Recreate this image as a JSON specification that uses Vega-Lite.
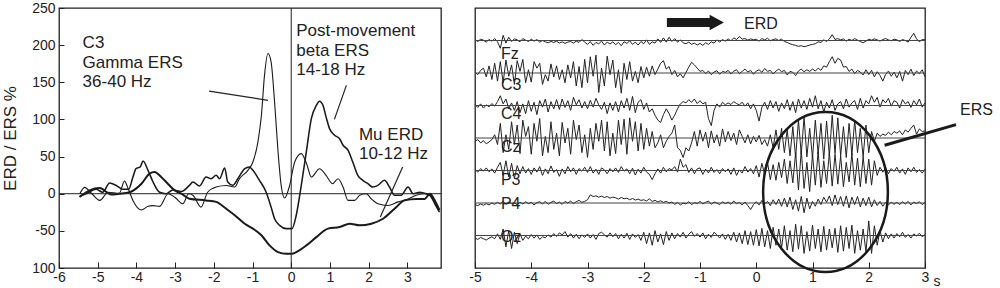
{
"$schema":"https://vega.github.io/schema/vega-lite/v6.json",
"padding":{"left":0,"top":0,"right":2,"bottom":0},
"bounds":"flush",
"spacing":34,
"config":{"font":"Liberation Sans","view":{"stroke":"#222","strokeWidth":1.3},"axis":{"labelFont":"Liberation Sans","titleFont":"Liberation Sans","labelColor":"#222","titleColor":"#222","tickColor":"#222","grid":false,"domain":false},"text":{"font":"Liberation Sans","color":"#222"}},
"datasets":{
"bands":[
{"b":"gamma","t":-5.46,"v":0},{"b":"gamma","t":-5.34,"v":8.6},{"b":"gamma","t":-5.15,"v":0},{"b":"gamma","t":-4.95,"v":-9},{"b":"gamma","t":-4.73,"v":2},{"b":"gamma","t":-4.44,"v":0.5},{"b":"gamma","t":-4.31,"v":17},{"b":"gamma","t":-4.2,"v":5},{"b":"gamma","t":-4.09,"v":-9},{"b":"gamma","t":-3.87,"v":-22},{"b":"gamma","t":-3.7,"v":-17},{"b":"gamma","t":-3.57,"v":-16},{"b":"gamma","t":-3.4,"v":-17},{"b":"gamma","t":-3.18,"v":0},{"b":"gamma","t":-3.0,"v":-5},{"b":"gamma","t":-2.8,"v":-13.5},{"b":"gamma","t":-2.65,"v":0},{"b":"gamma","t":-2.54,"v":-2},{"b":"gamma","t":-2.33,"v":-18},{"b":"gamma","t":-2.16,"v":2},{"b":"gamma","t":-1.94,"v":9},{"b":"gamma","t":-1.68,"v":11},{"b":"gamma","t":-1.46,"v":9},{"b":"gamma","t":-1.34,"v":20},{"b":"gamma","t":-1.12,"v":31.5},{"b":"gamma","t":-0.99,"v":42.7},{"b":"gamma","t":-0.86,"v":69.7},{"b":"gamma","t":-0.77,"v":105.6},{"b":"gamma","t":-0.69,"v":159.6},{"b":"gamma","t":-0.6,"v":188.7},{"b":"gamma","t":-0.52,"v":177.5},{"b":"gamma","t":-0.43,"v":123.6},{"b":"gamma","t":-0.34,"v":56.2},{"b":"gamma","t":-0.26,"v":11.3},{"b":"gamma","t":-0.17,"v":-5.8},{"b":"gamma","t":-0.04,"v":11.3},{"b":"gamma","t":0.09,"v":42.7},{"b":"gamma","t":0.26,"v":53.9},{"b":"gamma","t":0.4,"v":40},{"b":"gamma","t":0.52,"v":22.5},{"b":"gamma","t":0.73,"v":33.7},{"b":"gamma","t":0.9,"v":24.8},{"b":"gamma","t":1.07,"v":13.5},{"b":"gamma","t":1.21,"v":20.2},{"b":"gamma","t":1.34,"v":9},{"b":"gamma","t":1.47,"v":-9},{"b":"gamma","t":1.64,"v":-9},{"b":"gamma","t":1.77,"v":-2},{"b":"gamma","t":1.94,"v":0},{"b":"gamma","t":2.07,"v":-7},{"b":"gamma","t":2.24,"v":-13.5},{"b":"gamma","t":2.5,"v":-15.8},{"b":"gamma","t":2.76,"v":-11},{"b":"gamma","t":3.02,"v":-7},{"b":"gamma","t":3.23,"v":-2},{"b":"gamma","t":3.45,"v":0},{"b":"gamma","t":3.58,"v":-2},{"b":"gamma","t":3.71,"v":-11},{"b":"gamma","t":3.83,"v":-22},
{"b":"beta","t":-5.46,"v":-3},{"b":"beta","t":-5.3,"v":0},{"b":"beta","t":-5.04,"v":6},{"b":"beta","t":-4.87,"v":2},{"b":"beta","t":-4.69,"v":14.4},{"b":"beta","t":-4.52,"v":11},{"b":"beta","t":-4.35,"v":6},{"b":"beta","t":-4.2,"v":6},{"b":"beta","t":-4.09,"v":22.5},{"b":"beta","t":-4.01,"v":33.7},{"b":"beta","t":-3.9,"v":36},{"b":"beta","t":-3.83,"v":44},{"b":"beta","t":-3.7,"v":31.5},{"b":"beta","t":-3.57,"v":15.8},{"b":"beta","t":-3.4,"v":2},{"b":"beta","t":-3.23,"v":0},{"b":"beta","t":-3.06,"v":5},{"b":"beta","t":-2.84,"v":3},{"b":"beta","t":-2.63,"v":11.3},{"b":"beta","t":-2.54,"v":15.8},{"b":"beta","t":-2.37,"v":10.4},{"b":"beta","t":-2.2,"v":22.5},{"b":"beta","t":-2.07,"v":20.2},{"b":"beta","t":-1.94,"v":24.8},{"b":"beta","t":-1.85,"v":20.2},{"b":"beta","t":-1.72,"v":34.6},{"b":"beta","t":-1.64,"v":15.8},{"b":"beta","t":-1.51,"v":11.3},{"b":"beta","t":-1.38,"v":20.2},{"b":"beta","t":-1.2,"v":33.7},{"b":"beta","t":-1.08,"v":36},{"b":"beta","t":-0.99,"v":31.5},{"b":"beta","t":-0.82,"v":18},{"b":"beta","t":-0.65,"v":2.3},{"b":"beta","t":-0.52,"v":-18},{"b":"beta","t":-0.43,"v":-33.7},{"b":"beta","t":-0.3,"v":-42.6},{"b":"beta","t":-0.13,"v":-47},{"b":"beta","t":0.02,"v":-47},{"b":"beta","t":0.13,"v":-29},{"b":"beta","t":0.26,"v":11.3},{"b":"beta","t":0.39,"v":56.2},{"b":"beta","t":0.52,"v":101},{"b":"beta","t":0.65,"v":119},{"b":"beta","t":0.73,"v":124.5},{"b":"beta","t":0.82,"v":119},{"b":"beta","t":0.9,"v":103.4},{"b":"beta","t":0.99,"v":87.6},{"b":"beta","t":1.12,"v":78.7},{"b":"beta","t":1.25,"v":74.1},{"b":"beta","t":1.34,"v":65.2},{"b":"beta","t":1.47,"v":58.5},{"b":"beta","t":1.59,"v":42.7},{"b":"beta","t":1.72,"v":24.8},{"b":"beta","t":1.85,"v":18},{"b":"beta","t":1.98,"v":13.5},{"b":"beta","t":2.11,"v":9},{"b":"beta","t":2.24,"v":11.3},{"b":"beta","t":2.41,"v":18},{"b":"beta","t":2.54,"v":9},{"b":"beta","t":2.67,"v":-2},{"b":"beta","t":2.84,"v":-2},{"b":"beta","t":3.02,"v":9},{"b":"beta","t":3.15,"v":0},{"b":"beta","t":3.32,"v":2},{"b":"beta","t":3.49,"v":0},{"b":"beta","t":3.58,"v":-2},{"b":"beta","t":3.71,"v":-13.5},{"b":"beta","t":3.83,"v":-24.7},
{"b":"mu","t":-5.47,"v":-4.5},{"b":"mu","t":-5.21,"v":4.5},{"b":"mu","t":-4.95,"v":7.7},{"b":"mu","t":-4.65,"v":-1},{"b":"mu","t":-4.44,"v":0},{"b":"mu","t":-4.18,"v":2},{"b":"mu","t":-3.87,"v":13.5},{"b":"mu","t":-3.66,"v":27},{"b":"mu","t":-3.53,"v":29.2},{"b":"mu","t":-3.36,"v":22.5},{"b":"mu","t":-3.19,"v":13.5},{"b":"mu","t":-3.01,"v":4.5},{"b":"mu","t":-2.84,"v":0},{"b":"mu","t":-2.63,"v":-6.7},{"b":"mu","t":-2.2,"v":-9},{"b":"mu","t":-1.94,"v":-11},{"b":"mu","t":-1.68,"v":-20.2},{"b":"mu","t":-1.46,"v":-29},{"b":"mu","t":-1.2,"v":-40.4},{"b":"mu","t":-0.99,"v":-47},{"b":"mu","t":-0.77,"v":-56},{"b":"mu","t":-0.56,"v":-69.6},{"b":"mu","t":-0.34,"v":-78.6},{"b":"mu","t":-0.13,"v":-80.9},{"b":"mu","t":0.02,"v":-80.9},{"b":"mu","t":0.13,"v":-78.6},{"b":"mu","t":0.39,"v":-69.6},{"b":"mu","t":0.65,"v":-58.4},{"b":"mu","t":0.95,"v":-47},{"b":"mu","t":1.25,"v":-44.9},{"b":"mu","t":1.51,"v":-40.4},{"b":"mu","t":1.77,"v":-42.6},{"b":"mu","t":2.07,"v":-40.4},{"b":"mu","t":2.37,"v":-33.7},{"b":"mu","t":2.67,"v":-20.2},{"b":"mu","t":2.93,"v":-9},{"b":"mu","t":3.23,"v":-7},{"b":"mu","t":3.45,"v":-7},{"b":"mu","t":3.58,"v":0},{"b":"mu","t":3.71,"v":-9},{"b":"mu","t":3.83,"v":-22}
],
"eeg":[
{"t":-5,"a":0.02,"b":0.03,"c":0.03,"d":-0.10,"e":0.03,"f":-0.05,"g":-0.08},
{"t":-4.95,"a":-0.03,"b":-0.05,"c":-0.06,"d":-0.05,"e":-0.05,"f":-0.08,"g":-0.12},
{"t":-4.9,"a":0.04,"b":0.08,"c":0.05,"d":-0.15,"e":0.06,"f":-0.03,"g":-0.06},
{"t":-4.85,"a":0.01,"b":0.15,"c":-0.08,"d":-0.08,"e":-0.02,"f":-0.07,"g":-0.10},
{"t":-4.8,"a":-0.05,"b":-0.12,"c":0.02,"d":-0.18,"e":0.08,"f":-0.02,"g":-0.14},
{"t":-4.75,"a":0.03,"b":0.22,"c":-0.04,"d":-0.12,"e":-0.04,"f":-0.06,"g":-0.08},
{"t":-4.7,"a":-0.02,"b":-0.20,"c":0.06,"d":-0.05,"e":0.05,"f":0,"g":-0.04},
{"t":-4.65,"a":0.06,"b":0.30,"c":-0.02,"d":0.10,"e":-0.08,"f":-0.04,"g":-0.10},
{"t":-4.6,"a":-0.04,"b":-0.25,"c":0.12,"d":-0.20,"e":0.10,"f":0.02,"g":0.05},
{"t":-4.55,"a":-0.24,"b":0.35,"c":0.30,"d":0.45,"e":0.25,"f":-0.03,"g":-0.12},
{"t":-4.5,"a":0.16,"b":-0.30,"c":0.05,"d":-0.45,"e":-0.15,"f":0.05,"g":0.20},
{"t":-4.45,"a":-0.08,"b":0.40,"c":0.20,"d":0.10,"e":0.30,"f":-0.04,"g":-0.35},
{"t":-4.4,"a":0.10,"b":-0.10,"c":-0.10,"d":-0.35,"e":-0.20,"f":0.03,"g":0.15},
{"t":-4.35,"a":-0.03,"b":0.25,"c":0.08,"d":0.50,"e":0.22,"f":-0.02,"g":-0.40},
{"t":-4.3,"a":0.05,"b":-0.35,"c":-0.15,"d":-0.20,"e":-0.25,"f":0,"g":0.10},
{"t":-4.25,"a":0.02,"b":0.38,"c":0.12,"d":0.40,"e":0.15,"f":-0.05,"g":-0.25},
{"t":-4.2,"a":-0.04,"b":0.05,"c":-0.22,"d":-0.48,"e":-0.10,"f":0.02,"g":0.05},
{"t":-4.15,"a":0.06,"b":0.42,"c":0.05,"d":0.55,"e":0.12,"f":-0.03,"g":-0.15},
{"t":-4.1,"a":0.01,"b":-0.30,"c":-0.25,"d":0.05,"e":-0.08,"f":0.04,"g":-0.02},
{"t":-4.05,"a":-0.03,"b":0.10,"c":0.15,"d":0.35,"e":0.06,"f":-0.02,"g":-0.10},
{"t":-4,"a":0.04,"b":-0.28,"c":-0.18,"d":-0.50,"e":-0.12,"f":0.02,"g":0.03},
{"t":-3.95,"a":-0.02,"b":0.35,"c":0.10,"d":0.45,"e":0.08,"f":-0.06,"g":-0.08},
{"t":-3.9,"a":0.03,"b":0.15,"c":-0.28,"d":-0.10,"e":-0.05,"f":0.01,"g":0.02},
{"t":-3.85,"a":-0.05,"b":0.30,"c":0.15,"d":0.60,"e":0.12,"f":0.04,"g":-0.12},
{"t":-3.8,"a":0,"b":-0.35,"c":-0.05,"d":-0.55,"e":-0.15,"f":-0.03,"g":-0.04},
{"t":-3.75,"a":-0.04,"b":-0.05,"c":0.20,"d":0.05,"e":0.05,"f":0.05,"g":-0.07},
{"t":-3.7,"a":-0.07,"b":-0.25,"c":-0.20,"d":-0.45,"e":-0.10,"f":-0.04,"g":0.02},
{"t":-3.65,"a":-0.03,"b":0.28,"c":0.12,"d":0.50,"e":0.14,"f":0.02,"g":-0.05},
{"t":-3.6,"a":-0.06,"b":-0.12,"c":-0.10,"d":-0.35,"e":-0.06,"f":0.06,"g":0.06},
{"t":-3.55,"a":-0.02,"b":0.22,"c":0.18,"d":0.15,"e":0.03,"f":-0.02,"g":-0.03},
{"t":-3.5,"a":-0.08,"b":-0.20,"c":-0.12,"d":-0.55,"e":-0.18,"f":0.03,"g":0.08},
{"t":-3.45,"a":-0.04,"b":0.10,"c":0.20,"d":0.48,"e":0.05,"f":-0.04,"g":0.02},
{"t":-3.4,"a":-0.09,"b":-0.30,"c":-0.06,"d":-0.15,"e":-0.10,"f":0.05,"g":0.12},
{"t":-3.35,"a":-0.05,"b":0.25,"c":0.15,"d":0.30,"e":0.12,"f":0,"g":-0.05},
{"t":-3.3,"a":-0.03,"b":-0.15,"c":-0.15,"d":-0.50,"e":-0.04,"f":0.06,"g":0.06},
{"t":-3.25,"a":-0.08,"b":0.35,"c":0.25,"d":0.55,"e":0.08,"f":-0.02,"g":-0.08},
{"t":-3.2,"a":-0.02,"b":-0.40,"c":0.02,"d":-0.05,"e":-0.12,"f":0.04,"g":0.04},
{"t":-3.15,"a":-0.06,"b":0.20,"c":0.18,"d":0.40,"e":0.06,"f":0.08,"g":-0.10},
{"t":-3.1,"a":0.03,"b":-0.45,"c":-0.08,"d":-0.45,"e":-0.02,"f":0.02,"g":0.02},
{"t":-3.05,"a":-0.05,"b":0.42,"c":0.12,"d":0.10,"e":0.10,"f":0.05,"g":-0.06},
{"t":-3,"a":-0.12,"b":-0.30,"c":-0.10,"d":-0.60,"e":-0.06,"f":0.10,"g":0.05},
{"t":-2.95,"a":-0.03,"b":0.50,"c":0.16,"d":0.30,"e":0.12,"f":0.25,"g":-0.08},
{"t":-2.9,"a":-0.15,"b":-0.10,"c":-0.05,"d":-0.35,"e":-0.08,"f":0.20,"g":0.03},
{"t":-2.85,"a":-0.06,"b":0.55,"c":0.22,"d":0.45,"e":0.04,"f":0.22,"g":-0.12},
{"t":-2.8,"a":-0.10,"b":-0.60,"c":0.02,"d":-0.10,"e":-0.12,"f":0.18,"g":0.06},
{"t":-2.75,"a":-0.02,"b":0.15,"c":-0.12,"d":0.55,"e":0.08,"f":0.21,"g":0.10},
{"t":-2.7,"a":-0.14,"b":-0.40,"c":0.10,"d":-0.40,"e":0.02,"f":0.17,"g":0.02},
{"t":-2.65,"a":-0.05,"b":0.52,"c":-0.25,"d":0.50,"e":-0.10,"f":0.20,"g":-0.05},
{"t":-2.6,"a":-0.11,"b":-0.05,"c":0.08,"d":-0.55,"e":0.06,"f":0.15,"g":0.08},
{"t":-2.55,"a":-0.04,"b":0.40,"c":-0.15,"d":0.15,"e":-0.04,"f":0.18,"g":-0.04},
{"t":-2.5,"a":-0.13,"b":-0.45,"c":0.12,"d":-0.48,"e":0.08,"f":0.16,"g":0.06},
{"t":-2.45,"a":-0.06,"b":0.10,"c":-0.20,"d":0.55,"e":-0.06,"f":0.12,"g":-0.10},
{"t":-2.4,"a":-0.16,"b":-0.62,"c":0.15,"d":-0.20,"e":0.12,"f":0.17,"g":0.04},
{"t":-2.35,"a":-0.04,"b":0.30,"c":-0.08,"d":0.58,"e":-0.02,"f":0.13,"g":-0.08},
{"t":-2.3,"a":-0.09,"b":-0.20,"c":0.22,"d":-0.50,"e":0.05,"f":0.15,"g":0.07},
{"t":-2.25,"a":-0.01,"b":0.35,"c":-0.15,"d":0.62,"e":-0.10,"f":0.10,"g":-0.12},
{"t":-2.2,"a":-0.12,"b":-0.25,"c":0.28,"d":-0.10,"e":0.07,"f":0.14,"g":0.05},
{"t":-2.15,"a":-0.05,"b":0.05,"c":-0.22,"d":0.50,"e":-0.14,"f":0.09,"g":-0.06},
{"t":-2.1,"a":-0.14,"b":-0.30,"c":0.10,"d":-0.40,"e":0.04,"f":0.12,"g":0.03},
{"t":-2.05,"a":-0.03,"b":0.20,"c":0.18,"d":0.45,"e":-0.08,"f":0.08,"g":-0.15},
{"t":-2,"a":-0.10,"b":-0.15,"c":-0.12,"d":-0.35,"e":0.10,"f":0.10,"g":0.10},
{"t":-1.95,"a":0.02,"b":0.18,"c":0.08,"d":0.30,"e":-0.05,"f":0.06,"g":-0.25},
{"t":-1.9,"a":-0.12,"b":-0.10,"c":-0.20,"d":-0.25,"e":-0.12,"f":0.13,"g":0.08},
{"t":-1.85,"a":-0.04,"b":0.22,"c":-0.10,"d":0.20,"e":-0.28,"f":0.05,"g":-0.30},
{"t":-1.8,"a":-0.08,"b":-0.05,"c":-0.30,"d":-0.30,"e":-0.10,"f":0.08,"g":0.15},
{"t":-1.75,"a":0.05,"b":0.12,"c":-0.45,"d":-0.15,"e":0.05,"f":0.03,"g":-0.20},
{"t":-1.7,"a":-0.06,"b":0.30,"c":-0.52,"d":0.10,"e":-0.08,"f":0.07,"g":0.05},
{"t":-1.65,"a":0.08,"b":0.38,"c":-0.28,"d":-0.30,"e":0.10,"f":0.02,"g":-0.28},
{"t":-1.6,"a":-0.05,"b":0.12,"c":-0.10,"d":-0.10,"e":-0.04,"f":0.05,"g":0.12},
{"t":-1.55,"a":0.10,"b":0.20,"c":-0.25,"d":0.05,"e":0.06,"f":0,"g":-0.15},
{"t":-1.5,"a":-0.03,"b":-0.05,"c":-0.45,"d":0.15,"e":0.02,"f":0.03,"g":0.08},
{"t":-1.45,"a":0.06,"b":0.08,"c":-0.30,"d":0.40,"e":0.12,"f":-0.04,"g":-0.10},
{"t":-1.4,"a":-0.05,"b":-0.12,"c":-0.10,"d":-0.30,"e":-0.05,"f":0.02,"g":0.06},
{"t":-1.35,"a":0.02,"b":-0.02,"c":0.05,"d":-0.38,"e":0.35,"f":-0.06,"g":-0.05},
{"t":-1.3,"a":-0.07,"b":-0.15,"c":0.12,"d":-0.60,"e":0.10,"f":0,"g":0.10},
{"t":-1.25,"a":-0.10,"b":0.02,"c":0.08,"d":-0.30,"e":0.18,"f":-0.03,"g":-0.08},
{"t":-1.2,"a":-0.05,"b":0.18,"c":0.18,"d":-0.40,"e":-0.06,"f":0.04,"g":0.04},
{"t":-1.15,"a":-0.12,"b":0.33,"c":0.10,"d":-0.15,"e":0.08,"f":-0.05,"g":0.12},
{"t":-1.1,"a":-0.08,"b":0.25,"c":0.20,"d":0.20,"e":-0.10,"f":0.01,"g":-0.03},
{"t":-1.05,"a":-0.14,"b":0.15,"c":0.06,"d":-0.25,"e":0.05,"f":-0.02,"g":0.06},
{"t":-1,"a":-0.09,"b":0.05,"c":0.15,"d":0.25,"e":0.08,"f":0.05,"g":-0.05},
{"t":-0.95,"a":-0.15,"b":0.08,"c":0.05,"d":-0.10,"e":-0.12,"f":-0.03,"g":0.08},
{"t":-0.9,"a":-0.07,"b":-0.02,"c":0.10,"d":0.18,"e":0.04,"f":0.02,"g":-0.10},
{"t":-0.85,"a":-0.12,"b":0.06,"c":-0.40,"d":-0.30,"e":-0.08,"f":0.06,"g":0.04},
{"t":-0.8,"a":-0.04,"b":-0.05,"c":-0.62,"d":0.22,"e":0.10,"f":-0.04,"g":-0.06},
{"t":-0.75,"a":-0.08,"b":0.03,"c":-0.15,"d":-0.15,"e":-0.06,"f":0.03,"g":0.10},
{"t":-0.7,"a":0.02,"b":0.07,"c":0.05,"d":0.10,"e":0.03,"f":0,"g":0.02},
{"t":-0.65,"a":-0.05,"b":-0.04,"c":-0.05,"d":-0.25,"e":-0.10,"f":-0.05,"g":-0.08},
{"t":-0.6,"a":0.03,"b":0.05,"c":0.10,"d":0.28,"e":0.06,"f":0.04,"g":0.05},
{"t":-0.55,"a":-0.02,"b":0.02,"c":0.02,"d":-0.12,"e":-0.04,"f":-0.02,"g":-0.12},
{"t":-0.5,"a":0.05,"b":0.08,"c":0.08,"d":0.20,"e":0.05,"f":0.03,"g":0.04},
{"t":-0.45,"a":-0.01,"b":-0.03,"c":0.03,"d":-0.08,"e":-0.12,"f":-0.04,"g":-0.15},
{"t":-0.4,"a":0.08,"b":0.06,"c":0.12,"d":0.15,"e":0.08,"f":0.06,"g":0.10},
{"t":-0.35,"a":0.03,"b":0.10,"c":0.06,"d":-0.20,"e":-0.15,"f":-0.02,"g":-0.20},
{"t":-0.3,"a":0.12,"b":-0.02,"c":0.02,"d":0.25,"e":0.02,"f":0.02,"g":0.08},
{"t":-0.25,"a":0.04,"b":0.05,"c":0.10,"d":0.05,"e":-0.08,"f":-0.06,"g":-0.25},
{"t":-0.2,"a":0.06,"b":0.12,"c":-0.02,"d":-0.15,"e":0.12,"f":0.03,"g":0.15},
{"t":-0.15,"a":0.01,"b":0.03,"c":0.08,"d":0.10,"e":-0.05,"f":-0.08,"g":-0.28},
{"t":-0.1,"a":0.05,"b":0.08,"c":-0.10,"d":-0.18,"e":0.06,"f":-0.20,"g":0.12},
{"t":-0.05,"a":0.02,"b":-0.04,"c":0.05,"d":0.05,"e":-0.10,"f":-0.05,"g":-0.30},
{"t":0,"a":0.04,"b":0.06,"c":-0.15,"d":-0.12,"e":0.15,"f":0.04,"g":0.18},
{"t":0.05,"a":-0.02,"b":0.10,"c":-0.48,"d":0.08,"e":-0.20,"f":-0.06,"g":-0.32},
{"t":0.1,"a":0.06,"b":0.02,"c":-0.05,"d":-0.20,"e":0.22,"f":0.08,"g":0.22},
{"t":0.15,"a":0.02,"b":0.14,"c":0.10,"d":-0.05,"e":-0.12,"f":-0.03,"g":-0.35},
{"t":0.2,"a":0.07,"b":0.05,"c":-0.12,"d":-0.25,"e":0.25,"f":0.05,"g":0.15},
{"t":0.25,"a":-0.01,"b":0.08,"c":0.15,"d":0.10,"e":-0.28,"f":-0.08,"g":-0.40},
{"t":0.3,"a":0.03,"b":-0.03,"c":-0.08,"d":-0.30,"e":0.18,"f":0.10,"g":0.25},
{"t":0.35,"a":0.05,"b":0.06,"c":0.12,"d":0.25,"e":-0.30,"f":-0.05,"g":-0.30},
{"t":0.4,"a":0,"b":0.12,"c":-0.18,"d":-0.35,"e":0.25,"f":0.12,"g":0.20},
{"t":0.45,"a":0.04,"b":0.04,"c":0.08,"d":0.30,"e":-0.22,"f":-0.10,"g":-0.38},
{"t":0.5,"a":-0.03,"b":0.08,"c":-0.10,"d":-0.45,"e":0.35,"f":0.15,"g":0.30},
{"t":0.55,"a":-0.06,"b":-0.06,"c":0.18,"d":0.25,"e":-0.40,"f":-0.12,"g":-0.45},
{"t":0.6,"a":-0.10,"b":0.05,"c":-0.15,"d":-0.55,"e":0.30,"f":0.18,"g":0.15},
{"t":0.65,"a":-0.13,"b":0.02,"c":0.12,"d":0.35,"e":-0.38,"f":-0.20,"g":-0.50},
{"t":0.7,"a":-0.15,"b":-0.08,"c":-0.22,"d":-0.60,"e":0.55,"f":0.10,"g":0.35},
{"t":0.75,"a":-0.18,"b":0.06,"c":0.20,"d":0.55,"e":-0.60,"f":-0.25,"g":-0.42},
{"t":0.8,"a":-0.16,"b":0.12,"c":-0.08,"d":-0.50,"e":0.62,"f":0.20,"g":0.30},
{"t":0.85,"a":-0.19,"b":0.04,"c":0.15,"d":0.65,"e":-0.55,"f":-0.30,"g":-0.55},
{"t":0.9,"a":-0.17,"b":0.10,"c":-0.12,"d":-0.58,"e":0.25,"f":0.15,"g":0.12},
{"t":0.95,"a":-0.14,"b":0.05,"c":0.22,"d":0.30,"e":-0.65,"f":-0.18,"g":-0.48},
{"t":1,"a":-0.12,"b":0.12,"c":-0.05,"d":-0.62,"e":0.50,"f":0.05,"g":0.32},
{"t":1.05,"a":-0.10,"b":0.06,"c":0.30,"d":0.55,"e":-0.45,"f":-0.10,"g":-0.40},
{"t":1.1,"a":-0.04,"b":0.15,"c":-0.10,"d":-0.50,"e":0.58,"f":0.12,"g":0.20},
{"t":1.15,"a":-0.06,"b":0.08,"c":0.15,"d":0.45,"e":-0.52,"f":-0.05,"g":-0.50},
{"t":1.2,"a":0.02,"b":0.22,"c":-0.20,"d":-0.65,"e":0.30,"f":0.18,"g":0.28},
{"t":1.25,"a":-0.03,"b":0.18,"c":0.10,"d":0.52,"e":-0.40,"f":0.02,"g":-0.45},
{"t":1.3,"a":0.05,"b":0.35,"c":-0.08,"d":-0.55,"e":0.55,"f":0.22,"g":0.20},
{"t":1.35,"a":0.18,"b":0.50,"c":0.18,"d":0.70,"e":-0.48,"f":-0.08,"g":-0.38},
{"t":1.4,"a":0.03,"b":0.30,"c":-0.15,"d":-0.48,"e":0.50,"f":0.25,"g":0.22},
{"t":1.45,"a":0.06,"b":0.45,"c":0.05,"d":0.62,"e":-0.42,"f":-0.05,"g":-0.52},
{"t":1.5,"a":0.02,"b":0.40,"c":0.12,"d":-0.55,"e":0.45,"f":0.20,"g":0.30},
{"t":1.55,"a":0.05,"b":0.18,"c":-0.10,"d":0.35,"e":-0.50,"f":-0.10,"g":-0.48},
{"t":1.6,"a":-0.02,"b":0.20,"c":0.20,"d":-0.60,"e":0.25,"f":0.22,"g":0.25},
{"t":1.65,"a":0.04,"b":0.05,"c":-0.05,"d":0.45,"e":-0.35,"f":-0.15,"g":-0.40},
{"t":1.7,"a":0,"b":0.12,"c":0.08,"d":-0.52,"e":0.52,"f":0.18,"g":0.32},
{"t":1.75,"a":0.06,"b":-0.02,"c":0.15,"d":0.55,"e":-0.45,"f":-0.05,"g":-0.55},
{"t":1.8,"a":0.01,"b":0.08,"c":-0.12,"d":-0.45,"e":0.38,"f":0.20,"g":0.15},
{"t":1.85,"a":-0.03,"b":0.03,"c":0.22,"d":0.30,"e":-0.50,"f":-0.12,"g":-0.45},
{"t":1.9,"a":-0.07,"b":-0.06,"c":-0.08,"d":-0.58,"e":0.42,"f":0.15,"g":0.20},
{"t":1.95,"a":-0.02,"b":0.10,"c":0.15,"d":0.40,"e":-0.40,"f":-0.08,"g":-0.50},
{"t":2,"a":0.04,"b":-0.05,"c":0.05,"d":-0.45,"e":0.35,"f":0.18,"g":0.45},
{"t":2.05,"a":0.01,"b":0.08,"c":0.30,"d":0.20,"e":-0.45,"f":-0.12,"g":-0.55},
{"t":2.1,"a":0.05,"b":-0.12,"c":0.10,"d":-0.10,"e":0.30,"f":0.10,"g":0.30},
{"t":2.15,"a":0.02,"b":0.04,"c":0.25,"d":0.15,"e":-0.15,"f":-0.08,"g":-0.30},
{"t":2.2,"a":-0.02,"b":-0.08,"c":-0.05,"d":0.05,"e":0.10,"f":0.05,"g":0.15},
{"t":2.25,"a":0.03,"b":-0.25,"c":0.18,"d":0.12,"e":-0.05,"f":-0.10,"g":-0.20},
{"t":2.3,"a":0.06,"b":-0.04,"c":0.08,"d":0.08,"e":0.08,"f":0.02,"g":0.08},
{"t":2.35,"a":0.02,"b":0.06,"c":0.22,"d":0.18,"e":-0.10,"f":-0.06,"g":-0.10},
{"t":2.4,"a":-0.01,"b":-0.10,"c":-0.02,"d":0.10,"e":0.06,"f":0.03,"g":0.05},
{"t":2.45,"a":0.04,"b":0.03,"c":0.15,"d":0.20,"e":-0.03,"f":-0.04,"g":-0.08},
{"t":2.5,"a":0.02,"b":-0.15,"c":0.10,"d":0.15,"e":0.10,"f":0.02,"g":0.06},
{"t":2.55,"a":-0.03,"b":0.05,"c":-0.08,"d":0.22,"e":-0.08,"f":-0.05,"g":-0.04},
{"t":2.6,"a":0.03,"b":-0.25,"c":0.18,"d":0.10,"e":0.05,"f":0.04,"g":0.10},
{"t":2.65,"a":0,"b":0.08,"c":0.05,"d":0.25,"e":-0.12,"f":-0.03,"g":-0.06},
{"t":2.7,"a":-0.05,"b":-0.05,"c":0.12,"d":0.18,"e":0.08,"f":0.05,"g":0.03},
{"t":2.75,"a":0.10,"b":0.12,"c":-0.06,"d":0.30,"e":-0.04,"f":-0.06,"g":-0.08},
{"t":2.8,"a":0.22,"b":-0.08,"c":0.15,"d":0.40,"e":0.10,"f":0.03,"g":0.05},
{"t":2.85,"a":0.05,"b":0.06,"c":0.02,"d":0.12,"e":-0.06,"f":-0.02,"g":-0.02},
{"t":2.9,"a":-0.04,"b":-0.02,"c":0.20,"d":0.28,"e":0.03,"f":0.04,"g":0.07},
{"t":2.95,"a":0.03,"b":0.10,"c":-0.05,"d":0.20,"e":-0.08,"f":-0.05,"g":-0.04},
{"t":3,"a":0.02,"b":-0.12,"c":0.08,"d":0.22,"e":0.04,"f":0.02,"g":0.03}
]},
"hconcat":[
{
"width":382,"height":260,
"layer":[
{"data":{"name":"bands"},"mark":{"type":"line","interpolate":"monotone","color":"#1a1a1a"},
 "encoding":{
  "x":{"field":"t","type":"quantitative","scale":{"domain":[-6,3.87],"nice":false,"zero":false},"axis":{"values":[-6,-5,-4,-3,-2,-1,0,1,2,3],"tickCount":20,"tickSize":-6,"labelPadding":8,"labelFontSize":14,"labelFlush":false,"labelOverlap":false,"labelExpr":"datum.value < 0 ? '-' + abs(datum.value) : '' + datum.value","title":null}},
  "y":{"field":"v","type":"quantitative","scale":{"domain":[-100,250],"nice":false,"zero":false},"axis":{"values":[-100,-50,0,50,100,150,200,250],"tickCount":20,"tickSize":-5,"labelPadding":9,"labelFontSize":14,"labelOverlap":false,"labelExpr":"datum.value == -100 ? '100' : (datum.value < 0 ? '-' + abs(datum.value) : '' + datum.value)","title":"ERD / ERS %","titleFontSize":17,"titleFontWeight":"normal","titlePadding":12}},
  "strokeWidth":{"field":"b","type":"nominal","scale":{"domain":["gamma","beta","mu"],"range":[1.1,2,3]},"legend":null}
 }},
{"data":{"values":[{}]},"mark":{"type":"rule","color":"#222","strokeWidth":1},"encoding":{"y":{"datum":0,"type":"quantitative","scale":{"domain":[-100,250],"nice":false,"zero":false}}}},
{"data":{"values":[{}]},"mark":{"type":"rule","color":"#222","strokeWidth":1},"encoding":{"x":{"datum":0,"type":"quantitative","scale":{"domain":[-6,3.87],"nice":false,"zero":false}}}},
{"data":{"values":[{}]},"mark":{"type":"text","align":"left","baseline":"alphabetic","fontSize":17,"lineBreak":"\n","lineHeight":19.5},"encoding":{"x":{"datum":-5.39,"type":"quantitative","scale":{"domain":[-6,3.87],"nice":false,"zero":false}},"y":{"datum":196,"type":"quantitative","scale":{"domain":[-100,250],"nice":false,"zero":false}},"text":{"value":"C3\nGamma ERS\n36-40 Hz"}}},
{"data":{"values":[{}]},"mark":{"type":"text","align":"left","baseline":"alphabetic","fontSize":17,"lineBreak":"\n","lineHeight":19.7},"encoding":{"x":{"datum":0.13,"type":"quantitative","scale":{"domain":[-6,3.87],"nice":false,"zero":false}},"y":{"datum":212.3,"type":"quantitative","scale":{"domain":[-100,250],"nice":false,"zero":false}},"text":{"value":"Post-movement\nbeta ERS\n14-18 Hz"}}},
{"data":{"values":[{}]},"mark":{"type":"text","align":"left","baseline":"alphabetic","fontSize":17,"lineBreak":"\n","lineHeight":19},"encoding":{"x":{"datum":1.75,"type":"quantitative","scale":{"domain":[-6,3.87],"nice":false,"zero":false}},"y":{"datum":72.3,"type":"quantitative","scale":{"domain":[-100,250],"nice":false,"zero":false}},"text":{"value":"Mu ERD\n10-12 Hz"}}},
{"data":{"values":[{}]},"mark":{"type":"rule","color":"#222","strokeWidth":1.2},"encoding":{"x":{"datum":-2.12,"type":"quantitative","scale":{"domain":[-6,3.87],"nice":false,"zero":false}},"y":{"datum":138.2,"type":"quantitative","scale":{"domain":[-100,250],"nice":false,"zero":false}},"x2":{"datum":-0.6},"y2":{"datum":125.7}}},
{"data":{"values":[{}]},"mark":{"type":"rule","color":"#222","strokeWidth":1.2},"encoding":{"x":{"datum":1.425,"type":"quantitative","scale":{"domain":[-6,3.87],"nice":false,"zero":false}},"y":{"datum":145.9,"type":"quantitative","scale":{"domain":[-100,250],"nice":false,"zero":false}},"x2":{"datum":1.116},"y2":{"datum":100.1}}},
{"data":{"values":[{}]},"mark":{"type":"rule","color":"#222","strokeWidth":1.2},"encoding":{"x":{"datum":2.879,"type":"quantitative","scale":{"domain":[-6,3.87],"nice":false,"zero":false}},"y":{"datum":35.9,"type":"quantitative","scale":{"domain":[-100,250],"nice":false,"zero":false}},"x2":{"datum":2.302},"y2":{"datum":-31.4}}}
]
},
{
"width":450,"height":260,
"resolve":{"scale":{"y":"independent"}},
"layer":[
{"layer":[
 {"data":{"name":"eeg"},"mark":{"type":"line","color":"#222","strokeWidth":1},"encoding":{"x":{"field":"t","type":"quantitative","scale":{"domain":[-5,3],"nice":false,"zero":false},"axis":{"values":[-5,-4,-3,-2,-1,0,1,2,3],"tickCount":20,"tickSize":-6,"labelPadding":8,"labelFontSize":14,"labelFlush":false,"labelOverlap":false,"labelExpr":"datum.value < 0 ? '-' + abs(datum.value) : '' + datum.value","title":"s","titleFontSize":14,"titleFontWeight":"normal","titleX":458,"titleY":17,"titleAlign":"left","titleBaseline":"alphabetic"}},"y":{"field":"a","type":"quantitative","scale":{"domain":[-7,1],"nice":false,"zero":false},"axis":null}}},
 {"data":{"values":[{}]},"mark":{"type":"rule","color":"#444","strokeWidth":1},"encoding":{"y":{"datum":0,"type":"quantitative","scale":{"domain":[-7,1],"nice":false,"zero":false},"axis":null}}},
 {"data":{"values":[{}]},"mark":{"type":"text","align":"left","baseline":"alphabetic","fontSize":16},"encoding":{"x":{"datum":-4.54,"type":"quantitative","scale":{"domain":[-5,3],"nice":false,"zero":false}},"y":{"datum":-0.56,"type":"quantitative","scale":{"domain":[-7,1],"nice":false,"zero":false},"axis":null},"text":{"value":"Fz"}}}
]},
{"layer":[
 {"data":{"name":"eeg"},"mark":{"type":"line","color":"#222","strokeWidth":1},"encoding":{"x":{"field":"t","type":"quantitative","scale":{"domain":[-5,3],"nice":false,"zero":false}},"y":{"field":"b","type":"quantitative","scale":{"domain":[-6,2],"nice":false,"zero":false},"axis":null}}},
 {"data":{"values":[{}]},"mark":{"type":"rule","color":"#444","strokeWidth":1},"encoding":{"y":{"datum":0,"type":"quantitative","scale":{"domain":[-6,2],"nice":false,"zero":false},"axis":null}}},
 {"data":{"values":[{}]},"mark":{"type":"text","align":"left","baseline":"alphabetic","fontSize":16},"encoding":{"x":{"datum":-4.54,"type":"quantitative","scale":{"domain":[-5,3],"nice":false,"zero":false}},"y":{"datum":-0.52,"type":"quantitative","scale":{"domain":[-6,2],"nice":false,"zero":false},"axis":null},"text":{"value":"C3"}}}
]},
{"layer":[
 {"data":{"name":"eeg"},"mark":{"type":"line","color":"#222","strokeWidth":1},"encoding":{"x":{"field":"t","type":"quantitative","scale":{"domain":[-5,3],"nice":false,"zero":false}},"y":{"field":"c","type":"quantitative","scale":{"domain":[-5,3],"nice":false,"zero":false},"axis":null}}},
 {"data":{"values":[{}]},"mark":{"type":"rule","color":"#444","strokeWidth":1},"encoding":{"y":{"datum":0,"type":"quantitative","scale":{"domain":[-5,3],"nice":false,"zero":false},"axis":null}}},
 {"data":{"values":[{}]},"mark":{"type":"text","align":"left","baseline":"alphabetic","fontSize":16},"encoding":{"x":{"datum":-4.54,"type":"quantitative","scale":{"domain":[-5,3],"nice":false,"zero":false}},"y":{"datum":-0.41,"type":"quantitative","scale":{"domain":[-5,3],"nice":false,"zero":false},"axis":null},"text":{"value":"C4"}}}
]},
{"layer":[
 {"data":{"name":"eeg"},"mark":{"type":"line","color":"#222","strokeWidth":1},"encoding":{"x":{"field":"t","type":"quantitative","scale":{"domain":[-5,3],"nice":false,"zero":false}},"y":{"field":"d","type":"quantitative","scale":{"domain":[-4,4],"nice":false,"zero":false},"axis":null}}},
 {"data":{"values":[{}]},"mark":{"type":"rule","color":"#444","strokeWidth":1},"encoding":{"y":{"datum":0,"type":"quantitative","scale":{"domain":[-4,4],"nice":false,"zero":false},"axis":null}}},
 {"data":{"values":[{}]},"mark":{"type":"text","align":"left","baseline":"alphabetic","fontSize":16},"encoding":{"x":{"datum":-4.54,"type":"quantitative","scale":{"domain":[-5,3],"nice":false,"zero":false}},"y":{"datum":-0.43,"type":"quantitative","scale":{"domain":[-4,4],"nice":false,"zero":false},"axis":null},"text":{"value":"Cz"}}}
]},
{"layer":[
 {"data":{"name":"eeg"},"mark":{"type":"line","color":"#222","strokeWidth":1},"encoding":{"x":{"field":"t","type":"quantitative","scale":{"domain":[-5,3],"nice":false,"zero":false}},"y":{"field":"e","type":"quantitative","scale":{"domain":[-3,5],"nice":false,"zero":false},"axis":null}}},
 {"data":{"values":[{}]},"mark":{"type":"rule","color":"#444","strokeWidth":1},"encoding":{"y":{"datum":0,"type":"quantitative","scale":{"domain":[-3,5],"nice":false,"zero":false},"axis":null}}},
 {"data":{"values":[{}]},"mark":{"type":"text","align":"left","baseline":"alphabetic","fontSize":16},"encoding":{"x":{"datum":-4.54,"type":"quantitative","scale":{"domain":[-5,3],"nice":false,"zero":false}},"y":{"datum":-0.45,"type":"quantitative","scale":{"domain":[-3,5],"nice":false,"zero":false},"axis":null},"text":{"value":"P3"}}}
]},
{"layer":[
 {"data":{"name":"eeg"},"mark":{"type":"line","color":"#222","strokeWidth":1},"encoding":{"x":{"field":"t","type":"quantitative","scale":{"domain":[-5,3],"nice":false,"zero":false}},"y":{"field":"f","type":"quantitative","scale":{"domain":[-2,6],"nice":false,"zero":false},"axis":null}}},
 {"data":{"values":[{}]},"mark":{"type":"rule","color":"#444","strokeWidth":1},"encoding":{"y":{"datum":0,"type":"quantitative","scale":{"domain":[-2,6],"nice":false,"zero":false},"axis":null}}},
 {"data":{"values":[{}]},"mark":{"type":"text","align":"left","baseline":"alphabetic","fontSize":16},"encoding":{"x":{"datum":-4.54,"type":"quantitative","scale":{"domain":[-5,3],"nice":false,"zero":false}},"y":{"datum":-0.18,"type":"quantitative","scale":{"domain":[-2,6],"nice":false,"zero":false},"axis":null},"text":{"value":"P4"}}}
]},
{"layer":[
 {"data":{"name":"eeg"},"mark":{"type":"line","color":"#222","strokeWidth":1},"encoding":{"x":{"field":"t","type":"quantitative","scale":{"domain":[-5,3],"nice":false,"zero":false}},"y":{"field":"g","type":"quantitative","scale":{"domain":[-1,7],"nice":false,"zero":false},"axis":null}}},
 {"data":{"values":[{}]},"mark":{"type":"rule","color":"#444","strokeWidth":1},"encoding":{"y":{"datum":0,"type":"quantitative","scale":{"domain":[-1,7],"nice":false,"zero":false},"axis":null}}},
 {"data":{"values":[{}]},"mark":{"type":"text","align":"left","baseline":"alphabetic","fontSize":16},"encoding":{"x":{"datum":-4.54,"type":"quantitative","scale":{"domain":[-5,3],"nice":false,"zero":false}},"y":{"datum":-0.2,"type":"quantitative","scale":{"domain":[-1,7],"nice":false,"zero":false},"axis":null},"text":{"value":"Oz"}}}
]},
{"layer":[
 {"data":{"values":[{}]},"mark":{"type":"point","shape":"M -1 -0.16 L 0.5 -0.16 L 0.5 -0.27 L 1 0 L 0.5 0.27 L 0.5 0.16 L -1 0.16 Z","size":3249,"filled":true,"fill":"#1a1a1a","strokeWidth":0,"opacity":1},"encoding":{"x":{"datum":-1.082,"type":"quantitative","scale":{"domain":[-5,3],"nice":false,"zero":false}},"y":{"datum":0.446,"type":"quantitative","scale":{"domain":[0,8],"reverse":true,"nice":false,"zero":false},"axis":null}}},
 {"data":{"values":[{}]},"mark":{"type":"text","align":"left","baseline":"alphabetic","fontSize":16},"encoding":{"x":{"datum":-0.218,"type":"quantitative","scale":{"domain":[-5,3],"nice":false,"zero":false}},"y":{"datum":0.646,"type":"quantitative","scale":{"domain":[0,8],"reverse":true,"nice":false,"zero":false},"axis":null},"text":{"value":"ERD"}}},
 {"data":{"values":[{}]},"mark":{"type":"point","shape":"M 0.78 0 C 0.78 0.552 0.431 1 0 1 C -0.431 1 -0.78 0.552 -0.78 0 C -0.78 -0.552 -0.431 -1 0 -1 C 0.431 -1 0.78 -0.552 0.78 0 Z","size":25600,"filled":false,"stroke":"#1a1a1a","strokeWidth":2.5,"opacity":1},"encoding":{"x":{"datum":1.231,"type":"quantitative","scale":{"domain":[-5,3],"nice":false,"zero":false}},"y":{"datum":5.66,"type":"quantitative","scale":{"domain":[0,8],"reverse":true,"nice":false,"zero":false},"axis":null}}},
 {"data":{"values":[{}]},"mark":{"type":"rule","color":"#1a1a1a","strokeWidth":3},"encoding":{"x":{"datum":3.551,"type":"quantitative","scale":{"domain":[-5,3],"nice":false,"zero":false}},"y":{"datum":3.59,"type":"quantitative","scale":{"domain":[0,8],"reverse":true,"nice":false,"zero":false},"axis":null},"x2":{"datum":2.282},"y2":{"datum":4.225}}},
 {"data":{"values":[{}]},"mark":{"type":"text","align":"left","baseline":"alphabetic","fontSize":16},"encoding":{"x":{"datum":3.622,"type":"quantitative","scale":{"domain":[-5,3],"nice":false,"zero":false}},"y":{"datum":3.29,"type":"quantitative","scale":{"domain":[0,8],"reverse":true,"nice":false,"zero":false},"axis":null},"text":{"value":"ERS"}}}
]}
]
}
]
}
